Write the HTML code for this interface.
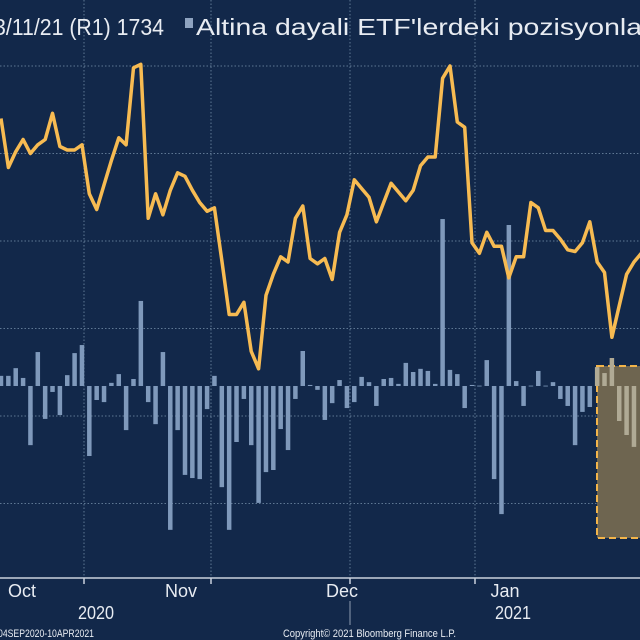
<!DOCTYPE html>
<html><head><meta charset="utf-8"><style>
html,body{margin:0;padding:0;background:#12284a;}
svg{display:block;font-family:"Liberation Sans",sans-serif;}
</style></head><body>
<svg id="chart" width="640" height="640" viewBox="0 0 640 640" xmlns="http://www.w3.org/2000/svg">
<rect x="0" y="0" width="640" height="640" fill="#12284a"/>
<g id="grid"></g>
<rect id="hl" x="597" y="366" width="50" height="172" fill="#6e6550" stroke="#f2b44a" stroke-width="2" stroke-dasharray="7,4"/>
<g id="bars"></g>
<polyline id="line" fill="none" stroke="#f7bb52" stroke-width="3.5" stroke-linejoin="round"/>
<g>
<text x="-6" y="35" font-size="23" fill="#e8ecf2" textLength="170" lengthAdjust="spacingAndGlyphs">3/11/21 (R1) 1734</text>
<rect x="185" y="18" width="8" height="10" fill="#8ea3c0"/>
<text x="196" y="35" font-size="23" fill="#e8ecf2" textLength="446" lengthAdjust="spacingAndGlyphs">Altina dayali ETF'lerdeki pozisyonla</text>
</g>
<g id="xaxis">
<line x1="0" y1="578" x2="640" y2="578" stroke="#c9d1dc" stroke-width="1.5"/>
<line x1="350" y1="601" x2="350" y2="625" stroke="#8e9bb0" stroke-width="1"/>
<text x="96" y="619" font-size="18" fill="#e8ecf2" text-anchor="middle" textLength="36" lengthAdjust="spacingAndGlyphs">2020</text>
<text x="495" y="619" font-size="18" fill="#e8ecf2" textLength="36" lengthAdjust="spacingAndGlyphs">2021</text>
<text x="-2" y="637" font-size="11" fill="#e8ecf2" textLength="96" lengthAdjust="spacingAndGlyphs">04SEP2020-10APR2021</text>
<text x="283" y="637" font-size="11" fill="#e8ecf2" textLength="173" lengthAdjust="spacingAndGlyphs">Copyright© 2021 Bloomberg Finance L.P.</text>
</g>
</svg>
<script>
const monthLabels = ["Oct","Nov","Dec","Jan"];
const monthLabelX = [22,181,342,505];
const monthTicks = [84,211,350,475];
const gridValues = [1950,1900,1850,1800,1750,1700];
const goldPrice = [1920,1892,1901,1908,1900,1905,1908,1923,1904,1902,1902,1905,1877,1868,1882,1896,1909,1905,1949,1951,1863,1877,1865,1879,1889,1887,1879,1872,1867,1869,1839,1808,1808,1815,1787,1777,1819,1831,1841,1838,1863,1870,1840,1837,1840,1828,1855,1865,1885,1880,1875,1861,1872,1883,1878,1873,1879,1893,1898,1898,1943,1950,1918,1915,1849,1843,1855,1847,1847,1829,1841,1841,1872,1869,1856,1856,1851,1845,1844,1849,1861,1838,1832,1795,1813,1831,1838,1843];
const etfFlows = [2.9,2.9,5.1,2.3,-16.9,9.7,-9.4,-1.7,-8.3,3.1,9.4,11.7,-20,-4,-4.6,0.9,3.4,-12.6,2,24.3,-4.6,-10.9,9.7,-41.1,-12.6,-25.4,-26.3,-26.6,-6.6,2.9,
-28.9,-41.1,-16,-3.7,-16.9,-33.4,-24.6,-24,-12.3,-18.3,-3.7,10,0.3,-1.1,-9.7,-4.9,1.7,-6.3,-4.6,2.6,1.1,-5.7,2,2.3,0.6,6.6,4,4.9,
4.3,0.6,47.7,4.6,3.4,-6.3,0.3,0.1,7.4,-26.6,-36.6,46,1.4,-5.7,0.1,4.3,0.1,1.1,-3.7,-5.7,-16.9,-7.4,-6,5.4,3.7,8,-10,-14,-17.4];

const NS = "http://www.w3.org/2000/svg";
function xPos(i){ return 1 + i*7.36; }
function yLine(v){ return 66 + (1950 - v)*1.75; }
function yBar(v){ return 386 - v*3.5; }

const grid = document.getElementById('grid');
gridValues.forEach(v=>{
  const l=document.createElementNS(NS,'line');
  const y=yLine(v);
  l.setAttribute('x1',0);l.setAttribute('x2',640);l.setAttribute('y1',y);l.setAttribute('y2',y);
  l.setAttribute('stroke','#5f7894');l.setAttribute('stroke-width','1');l.setAttribute('stroke-dasharray','1.5,2');
  
  
  grid.appendChild(l);
});
monthTicks.forEach(x=>{
  const l=document.createElementNS(NS,'line');
  l.setAttribute('x1',x);l.setAttribute('x2',x);l.setAttribute('y1',0);l.setAttribute('y2',578);
  l.setAttribute('stroke','#5f7894');l.setAttribute('stroke-width','1');l.setAttribute('stroke-dasharray','1.5,2');
  
  
  grid.appendChild(l);
});
const xaxis=document.getElementById('xaxis');
monthTicks.forEach(x=>{
  const t=document.createElementNS(NS,'line');
  t.setAttribute('x1',x);t.setAttribute('x2',x);t.setAttribute('y1',578);t.setAttribute('y2',584);
  t.setAttribute('stroke','#c9d1dc');t.setAttribute('stroke-width','1.5');
  
  
  xaxis.appendChild(t);
});
monthLabels.forEach((m,i)=>{
  const t=document.createElementNS(NS,'text');
  t.setAttribute('x',monthLabelX[i]);t.setAttribute('y',597);t.setAttribute('font-size','18');
  t.setAttribute('fill','#e8ecf2');t.setAttribute('text-anchor','middle');
  
  
  t.textContent=m;
  xaxis.appendChild(t);
});
const bars=document.getElementById('bars');
etfFlows.forEach((v,i)=>{
  const r=document.createElementNS(NS,'rect');
  const x=xPos(i), y0=yBar(0), y1=yBar(v);
  r.setAttribute('x',x-2.25);r.setAttribute('width',4.5);
  r.setAttribute('y',Math.min(y0,y1));r.setAttribute('height',Math.max(0.8,Math.abs(y1-y0)));
  r.setAttribute('fill', x>=596 ? '#b0aa95' : '#7f99bb');
  
  
  bars.appendChild(r);
});
document.getElementById('line').setAttribute('points', goldPrice.map((v,i)=>xPos(i).toFixed(1)+','+yLine(v).toFixed(1)).join(' '));
</script>
</body></html>
